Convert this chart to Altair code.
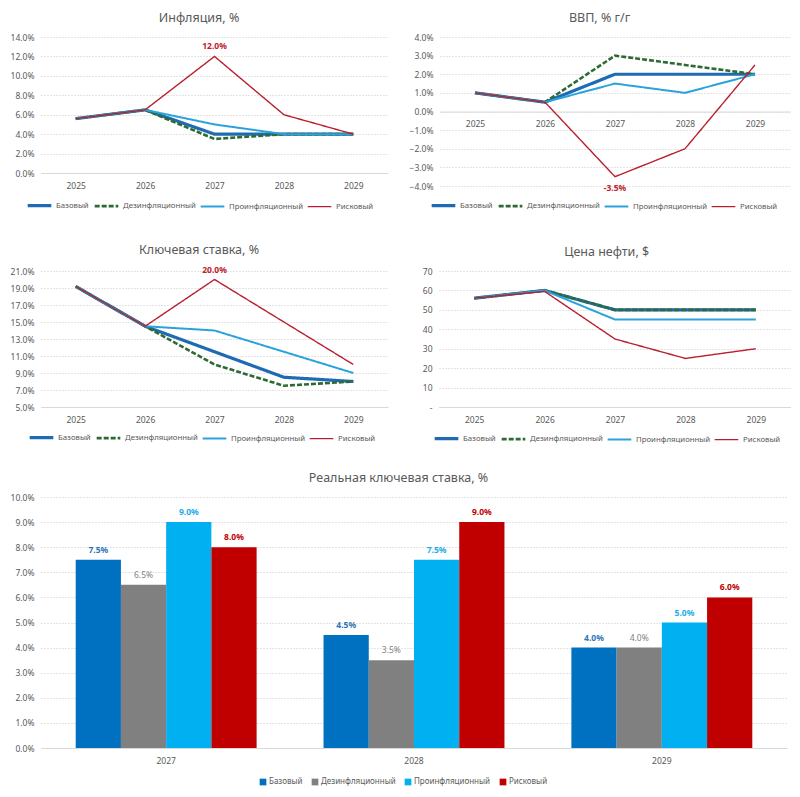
import altair as alt
import pandas as pd

FONT = "Noto Sans"
TXT = "#595959"
GRID = "#D9D9D9"

years = ["2025", "2026", "2027", "2028", "2029"]
scenarios = ["Базовый", "Дезинфляционный", "Проинфляционный", "Рисковый"]

infl_base = [5.6, 6.5, 4.0, 4.0, 4.0]
infl_dis = [5.6, 6.5, 3.5, 4.0, 4.0]
infl_pro = [5.6, 6.5, 5.0, 4.0, 4.0]
infl_risk = [5.6, 6.5, 12.0, 6.0, 4.0]

gdp_base = [1.0, 0.5, 2.0, 2.0, 2.0]
gdp_dis = [1.0, 0.5, 3.0, 2.5, 2.0]
gdp_pro = [1.0, 0.5, 1.5, 1.0, 2.0]
gdp_risk = [1.0, 0.5, -3.5, -2.0, 2.5]

rate_base = [19.2, 14.5, 11.5, 8.5, 8.0]
rate_dis = [19.2, 14.5, 10.0, 7.5, 8.0]
rate_pro = [19.2, 14.5, 14.0, 11.5, 9.0]
rate_risk = [19.2, 14.5, 20.0, 15.0, 10.0]

oil_base = [56, 60, 50, 50, 50]
oil_dis = [56, 60, 50, 50, 50]
oil_pro = [56, 60, 45, 45, 45]
oil_risk = [56, 59.5, 35, 25, 30]

bar_years = ["2027", "2028", "2029"]
real_base = [7.5, 4.5, 4.0]
real_dis = [6.5, 3.5, 4.0]
real_pro = [9.0, 7.5, 5.0]
real_risk = [8.0, 9.0, 6.0]

line_colors = ["#1F6BB3", "#2E6B34", "#2AA3DC", "#B8202F"]
bar_colors = ["#0070C0", "#808080", "#00B0F0", "#C00000"]
bar_label_colors = ["#2E75B6", "#7F7F7F", "#1AADE8", "#C00000"]
bar_label_weights = ["bold", "normal", "bold", "bold"]

LBL = 8.5


def long_df(series, cats):
    rows = []
    for s, vals in zip(scenarios, series):
        for c, v in zip(cats, vals):
            rows.append({"year": c, "scenario": s, "value": v})
    return pd.DataFrame(rows)


def line_panel(series, title, ydom, yvals, width, height, pct, lx, ly,
               ann_year=None, ann_dy=-10, x_offset=0):
    df = long_df(series, years)
    df["label"] = [f"{v:.1f}%" for v in df["value"]]
    if pct:
        lab = "format(datum.value, '.1f') + '%'"
    else:
        lab = "datum.value == 0 ? '-' : format(datum.value, 'd')"
    leg = alt.Legend(orient="none", legendX=lx, legendY=ly, direction="horizontal",
                     columns=4, title=None, symbolType="stroke", symbolSize=560,
                     labelFontSize=7.8, labelColor=TXT, labelFont=FONT,
                     columnPadding=0, labelOffset=3, padding=0)
    ex = alt.X("year:O", scale=alt.Scale(type="point", padding=0.5),
               axis=alt.Axis(title=None, labelAngle=0, ticks=False, domainColor=GRID,
                             labelPadding=8, offset=x_offset, grid=False,
                             labelFontSize=LBL, labelColor=TXT, labelFont=FONT))
    ey = alt.Y("value:Q", scale=alt.Scale(domain=ydom, nice=False, zero=False),
               axis=alt.Axis(title=None, values=yvals, labelExpr=lab, ticks=False,
                             domain=False, grid=True, gridDash=[1, 2], gridColor="#C8C8C8",
                             labelFontSize=LBL, labelColor=TXT, labelFont=FONT,
                             labelPadding=7, labelOverlap=False))
    base = alt.Chart(df)
    lines = base.mark_line().encode(
        x=ex, y=ey,
        color=alt.Color("scenario:N", sort=scenarios,
                        scale=alt.Scale(domain=scenarios, range=line_colors), legend=leg),
        strokeDash=alt.StrokeDash("scenario:N", sort=scenarios,
                                  scale=alt.Scale(domain=scenarios,
                                                  range=[[1, 0], [5, 2], [1, 0], [1, 0]]),
                                  legend=leg),
        strokeWidth=alt.StrokeWidth("scenario:N", sort=scenarios,
                                    scale=alt.Scale(domain=scenarios, range=[3.2, 1.4, 1.6, 1.8]),
                                    legend=leg),
        order=alt.Order("year:O"),
    )
    layers = [lines]
    if ann_year is not None:
        ann = base.mark_text(dy=ann_dy, color="#C0202E", fontWeight="bold", fontSize=8.5,
                             font=FONT).encode(
            x=ex, y=ey, text="label:N"
        ).transform_filter(
            (alt.datum.scenario == "Рисковый") & (alt.datum.year == ann_year))
        layers.append(ann)
    return alt.layer(*layers).properties(title=title, width=width, height=height)


p1 = line_panel([infl_base, infl_dis, infl_pro, infl_risk], "Инфляция, %", [0, 14],
                [0, 2, 4, 6, 8, 10, 12, 14], 347, 136, True, -15, 155, ann_year="2027")
p2 = line_panel([gdp_base, gdp_dis, gdp_pro, gdp_risk], "ВВП, % г/г", [-4, 4],
                [-4, -3, -2, -1, 0, 1, 2, 3, 4], 350, 149, True, -10, 155,
                ann_year="2027", ann_dy=11, x_offset=-74.5)
p3 = line_panel([rate_base, rate_dis, rate_pro, rate_risk], "Ключевая ставка, %", [5, 21],
                [5, 7, 9, 11, 13, 15, 17, 19, 21], 347, 136, True, -13, 153, ann_year="2027")
p4 = line_panel([oil_base, oil_dis, oil_pro, oil_risk], "Цена нефти, $", [0, 70],
                [0, 10, 20, 30, 40, 50, 60, 70], 352, 136, False, -6, 154)

bdf = long_df([real_base, real_dis, real_pro, real_risk], bar_years)
bdf["label"] = [f"{v:.1f}%" for v in bdf["value"]]

bx = alt.X("year:N", scale=alt.Scale(paddingInner=0.27, paddingOuter=0.14),
           axis=alt.Axis(title=None, labelAngle=0, ticks=False, domainColor=GRID,
                         labelPadding=8, grid=False, labelFontSize=LBL, labelColor=TXT,
                         labelFont=FONT))
bxo = alt.XOffset("scenario:N", sort=scenarios,
                  scale=alt.Scale(domain=scenarios, paddingInner=0, paddingOuter=0))
by = alt.Y("value:Q", scale=alt.Scale(domain=[0, 10], nice=False),
           axis=alt.Axis(title=None, values=list(range(0, 11)),
                         labelExpr="format(datum.value, '.1f') + '%'", ticks=False,
                         domain=False, grid=True, gridDash=[1, 2], gridColor="#C8C8C8",
                         labelFontSize=LBL, labelColor=TXT, labelFont=FONT, labelPadding=7,
                         labelOverlap=False))
bars = alt.Chart(bdf).mark_bar().encode(
    x=bx, xOffset=bxo, y=by,
    color=alt.Color("scenario:N", sort=scenarios,
                    scale=alt.Scale(domain=scenarios, range=bar_colors),
                    legend=alt.Legend(orient="none", legendX=218, legendY=281,
                                      direction="horizontal", columns=4, title=None,
                                      symbolType="square", symbolSize=45,
                                      symbolStrokeWidth=0, padding=0,
                                      labelFontSize=8, labelColor=TXT, labelFont=FONT,
                                      columnPadding=8, labelOffset=2)),
)
blayers = [bars]
for s, c, w in zip(scenarios, bar_label_colors, bar_label_weights):
    blayers.append(
        alt.Chart(bdf).mark_text(dy=-10, color=c, fontWeight=w, fontSize=8.5, font=FONT)
        .encode(x=bx, xOffset=bxo, y=by, text="label:N")
        .transform_filter(alt.datum.scenario == s)
    )
p5 = alt.layer(*blayers).properties(
    title=alt.TitleParams("Реальная ключевая ставка, %", fontSize=12.5),
    width=746, height=251)

res = dict(color="independent", strokeDash="independent", strokeWidth="independent")
row1 = alt.hconcat(p1, p2, spacing=21).resolve_scale(**res)
row2 = alt.hconcat(p3, p4, spacing=34).resolve_scale(**res)
top = alt.vconcat(row1, row2, spacing=32).resolve_scale(**res)

chart = alt.vconcat(top, p5, spacing=26).resolve_scale(**res).properties(
    padding={"left": 2, "top": 3, "right": 0, "bottom": 0}, background="white"
).configure_view(
    stroke=None
).configure_title(
    fontSize=12.5, font=FONT, color=TXT, fontWeight="normal", anchor="middle", offset=9,
    frame="bounds"
)

chart.save("out.html", embed_options={"renderer": "svg", "actions": False})
